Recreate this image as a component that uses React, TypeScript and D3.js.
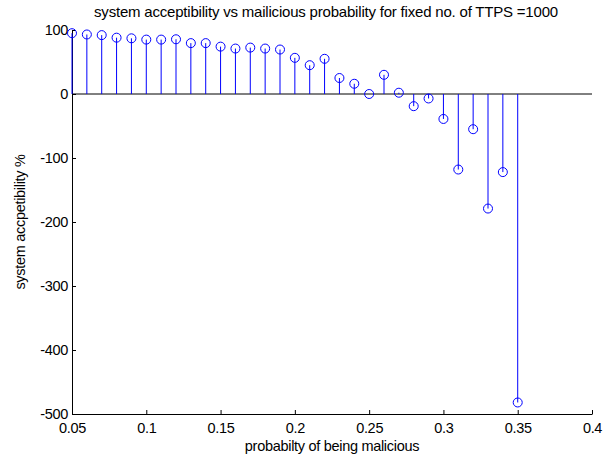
import React, { useEffect, useRef } from 'react';
import * as d3 from 'd3';

// malicious probability vs system acceptibility (stem plot)
const probability = [0.05, 0.06, 0.07, 0.08, 0.09, 0.1, 0.11, 0.12, 0.13, 0.14, 0.15, 0.16, 0.17, 0.18, 0.19, 0.2,
  0.21, 0.22, 0.23, 0.24, 0.25, 0.26, 0.27, 0.28, 0.29, 0.3, 0.31, 0.32, 0.33, 0.34, 0.35];
const acceptibility = [95, 93, 92, 88, 87, 85, 85, 85.5, 79.5, 79.5, 74, 71, 72.5, 71, 69.5, 56.5,
  45, 55, 25, 16, 0, 30, 2, -19, -7, -39, -118, -55, -179, -122, -482];
const xTicks = [0.05, 0.1, 0.15, 0.2, 0.25, 0.3, 0.35, 0.4];
const yTicks = [100, 0, -100, -200, -300, -400, -500];

const App = () => {
  const ref = useRef<SVGSVGElement>(null);

  useEffect(() => {
    const width = 612;
    const height = 456;
    const left = 72, right = 592, top = 30, bottom = 414;
    const font = '"Liberation Sans", Arial, sans-serif';
    const fs = 14.5;

    const svg = d3.select(ref.current);
    svg.selectAll('*').remove();
    svg.attr('width', width).attr('height', height);

    const x = d3.scaleLinear().domain([0.05, 0.4]).range([left, right]);
    const y = d3.scaleLinear().domain([-500, 100]).range([bottom, top]);

    // zero baseline
    svg.append('line')
      .attr('x1', left).attr('x2', right)
      .attr('y1', y(0)).attr('y2', y(0))
      .attr('stroke', '#000').attr('stroke-width', 1);

    // x axis
    const xAxis = d3.axisBottom(x).tickValues(xTicks).tickSizeInner(-4).tickSizeOuter(0)
      .tickFormat(d => String(d));
    const gx = svg.append('g').attr('transform', `translate(0,${bottom})`).call(xAxis);
    gx.selectAll('text').attr('y', 19).attr('dy', null).attr('font-size', fs)
      .attr('letter-spacing', -0.3).attr('font-family', font).attr('fill', '#000');

    // y axis
    const yAxis = d3.axisLeft(y).tickValues(yTicks).tickSizeInner(-4).tickSizeOuter(0)
      .tickFormat(d => String(d));
    const gy = svg.append('g').attr('transform', `translate(${left},0)`).call(yAxis);
    gy.selectAll('text').attr('x', -4).attr('font-size', fs)
      .attr('letter-spacing', -0.3).attr('font-family', font).attr('fill', '#000');
    svg.selectAll('.domain').attr('stroke', '#000');

    // stems
    svg.append('g').selectAll('line')
      .data(probability)
      .enter()
      .append('line')
      .attr('x1', d => x(d)).attr('x2', d => x(d))
      .attr('y1', y(0))
      .attr('y2', (d, i) => y(acceptibility[i]))
      .attr('stroke', '#0000ff').attr('stroke-width', 1);

    // markers
    svg.append('g').selectAll('circle')
      .data(probability)
      .enter()
      .append('circle')
      .attr('cx', d => x(d))
      .attr('cy', (d, i) => y(acceptibility[i]))
      .attr('r', 4.5)
      .attr('fill', 'none')
      .attr('stroke', '#0000ff').attr('stroke-width', 1);

    // titles
    svg.append('text')
      .attr('x', (left + right) / 2 - 6).attr('y', 17)
      .attr('text-anchor', 'middle')
      .attr('font-size', 15).attr('letter-spacing', -0.2).attr('font-family', font)
      .text('system acceptibility vs mailicious probability for fixed no. of TTPS =1000');

    svg.append('text')
      .attr('x', (left + right) / 2).attr('y', 451)
      .attr('text-anchor', 'middle')
      .attr('font-size', fs).attr('letter-spacing', -0.3).attr('font-family', font)
      .text('probabilty of being malicious');

    svg.append('text')
      .attr('transform', `translate(25,${(top + bottom) / 2}) rotate(-90)`)
      .attr('text-anchor', 'middle')
      .attr('font-size', fs).attr('letter-spacing', -0.3).attr('font-family', font)
      .text('system accpetibility %');
  }, []);

  return (
    <svg ref={ref} style={{ position: 'absolute', left: 0, top: 0, background: '#fff' }} />
  );
};

export default App;
